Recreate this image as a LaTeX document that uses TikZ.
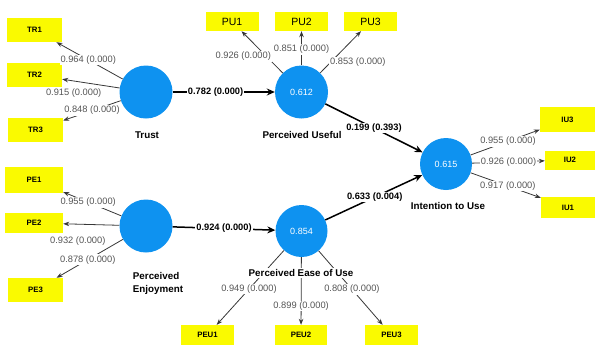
\documentclass[tikz,border=0pt]{standalone}
\usepackage{fontspec}
\setmainfont{Liberation Sans}
\usetikzlibrary{arrows.meta}
\definecolor{lvblue}{RGB}{14,146,240}
\definecolor{indyellow}{RGB}{250,250,0}
\definecolor{loadgray}{RGB}{55,55,55}
\definecolor{valgray}{RGB}{85,85,85}

\begin{document}
\begin{tikzpicture}[x=1pt, y=-1pt,
    latent/.style={circle, fill=lvblue, minimum size=53pt, inner sep=0pt, text=white, font=\fontsize{9}{10}\selectfont},
    ind/.style={fill=indyellow, inner sep=0pt, font=\bfseries\fontsize{7.8}{9}\selectfont},
    loading/.style={draw=loadgray, line width=0.8pt, -{Stealth[length=6pt,width=4.5pt]}},
    struct/.style={line width=1.5pt, -{Stealth[length=8pt,width=7pt]}},
    val/.style={fill=white, inner sep=1pt, text=valgray, font=\fontsize{9.3}{10}\selectfont},
    coef/.style={fill=white, inner sep=1pt, font=\bfseries\fontsize{9.3}{10}\selectfont},
    lvname/.style={fill=white, inner sep=1pt, font=\bfseries\fontsize{9.8}{13}\selectfont}]
\useasboundingbox (0,0) rectangle (596,351);

% latent variables
\node[latent] (trust) at (146,92) {};
\node[latent] (pu) at (301.5,92) {0.612};
\node[latent, minimum size=52pt] (itu) at (446,164) {0.615};
\node[latent] (pe) at (146,226) {};
\node[latent, minimum size=52pt] (peu) at (301.5,231) {0.854};

% indicators
\foreach \n/\t/\x/\y/\w/\h in {tr1/TR1/34.5/30/55/24, tr2/TR2/34.5/75/55/24, tr3/TR3/35.5/130/55/24,
    iu3/IU3/567.5/119.5/55/25, iu2/IU2/570/160/50/19, iu1/IU1/568/207.5/54/21,
    pe1/PE1/34/180/58/26, pe2/PE2/34/223/58/20, pe3/PE3/35.5/290/55/24,
    peu1/PEU1/207.5/335/53/20, peu2/PEU2/301/335/52/20, peu3/PEU3/391.5/335/53/20}
{
    \node[ind, minimum width=\w pt, minimum height=\h pt] (\n) at (\x,\y) {\t};
}
\foreach \n/\t/\x in {pu1/PU1/232, pu2/PU2/301.5, pu3/PU3/370.5}
{
    \node[ind, minimum width=53pt, minimum height=19pt, font=\fontsize{10.5}{12}\selectfont] (\n) at (\x,21.5) {\t};
}

% outer loadings
\foreach \b/\v/\p/\dx/\dy in {tr1/0.964/.52/0/0, tr2/0.915/.8/0/-12, tr3/0.848/.5/0/0}
{
    \draw[loading] (trust) -- node[val, pos=\p, xshift=\dx pt, yshift=\dy pt] {\v\ (0.000)} (\b);
}
\foreach \b/\v/\p/\dx/\dy in {pu1/0.926/.4/-23/0, pu2/0.851/.47/0/0, pu3/0.853/.26/27/0}
{
    \draw[loading] (pu) -- node[val, pos=\p, xshift=\dx pt, yshift=\dy pt] {\v\ (0.000)} (\b);
}
\foreach \b/\v/\p in {iu3/0.955/.54, iu2/0.926/.5, iu1/0.917/.53}
{
    \draw[loading] (itu) -- node[val, pos=\p] {\v\ (0.000)} (\b);
}
\foreach \b/\v/\p/\dx/\dy in {pe1/0.955/.57/0/0, pe2/0.932/.74/0/-17, pe3/0.878/.53/0/0}
{
    \draw[loading] (pe) -- node[val, pos=\p, xshift=\dx pt, yshift=\dy pt] {\v\ (0.000)} (\b);
}
\foreach \b/\v/\p in {peu1/0.949/.52, peu2/0.899/.72, peu3/0.808/.52}
{
    \draw[loading] (peu) -- node[val, pos=\p] {\v\ (0.000)} (\b);
}

% structural paths
\draw[struct] (trust) -- node[coef, pos=.42] {0.782 (0.000)} (pu);
\draw[struct] (pu) -- node[coef, pos=.5] {0.199 (0.393)} (itu);
\draw[struct] (pe) -- node[coef, pos=.5] {0.924 (0.000)} (peu);
\draw[struct] (peu) -- node[coef, pos=.51] {0.633 (0.004)} (itu);

% names
\node[lvname] (trustname) at (147,135) {Trust};
\node[lvname] (puname) at (302,135) {Perceived Useful};
\node[lvname] (ituname) at (448,206) {Intention to Use};
\node[lvname, align=left] (pename) at (158,283) {Perceived\\Enjoyment};
\node[lvname] (peuname) at (301,273) {Perceived Ease of Use};
\end{tikzpicture}
\end{document}
